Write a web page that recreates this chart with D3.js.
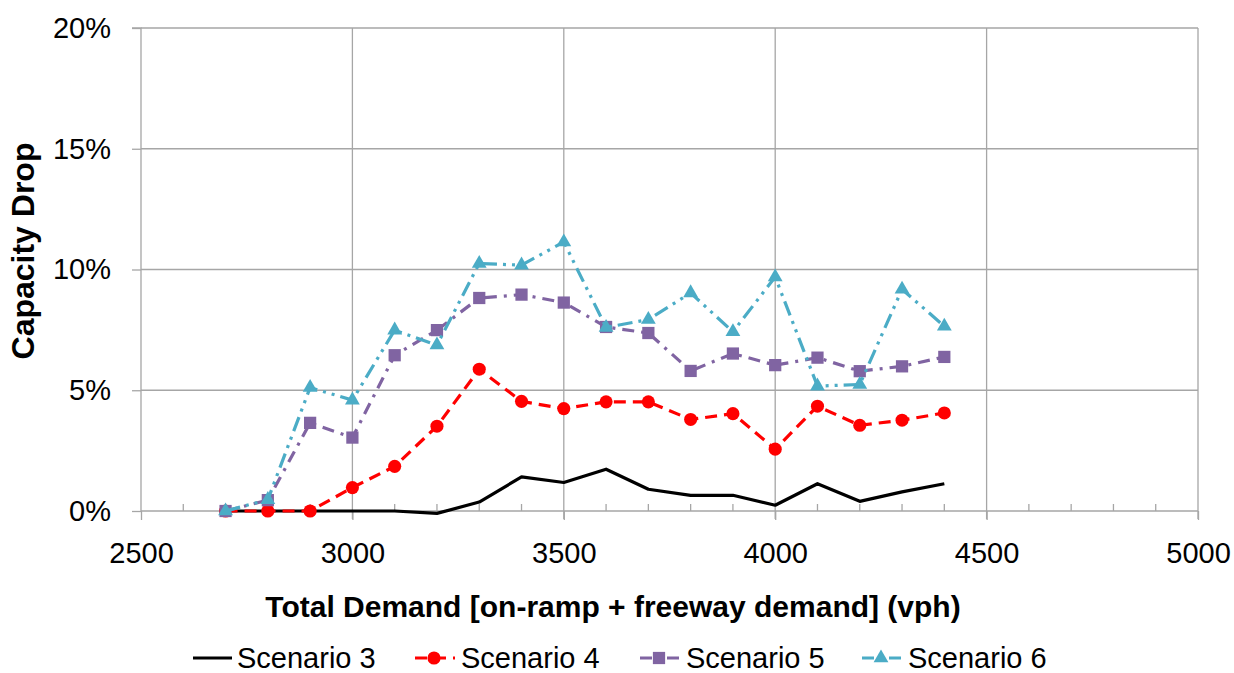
<!DOCTYPE html>
<html>
<head>
<meta charset="utf-8">
<script src="https://cdn.jsdelivr.net/npm/d3@7"></script>
<style>
  body { margin: 0; background: #fff; }
  svg { display: block; font-family: "Liberation Sans", Arial, sans-serif; }
</style>
</head>
<body>
<svg width="1234" height="673"></svg>
<script>
// total demand (vph)
const demand = [2700, 2800, 2900, 3000, 3100, 3200, 3300, 3400, 3500, 3600, 3700, 3800, 3900, 4000, 4100, 4200, 4300, 4400]

// capacity drop (%)
const scenario3 = [0, 0, 0, 0, 0, -0.1, 0.37, 1.41, 1.18, 1.73, 0.9, 0.65, 0.65, 0.24, 1.13, 0.4, 0.79, 1.13]
const scenario4 = [0, 0, 0, 0.97, 1.85, 3.51, 5.87, 4.54, 4.24, 4.52, 4.52, 3.79, 4.03, 2.56, 4.34, 3.55, 3.76, 4.06]
const scenario5 = [0, 0.45, 3.65, 3.04, 6.45, 7.49, 8.82, 8.96, 8.63, 7.62, 7.37, 5.8, 6.52, 6.04, 6.35, 5.79, 5.99, 6.38]
const scenario6 = [0, 0.47, 5.11, 4.59, 7.49, 6.87, 10.25, 10.18, 11.14, 7.6, 7.93, 9.03, 7.42, 9.69, 5.17, 5.24, 9.18, 7.65]

const seriesNames = ['Scenario 3', 'Scenario 4', 'Scenario 5', 'Scenario 6']
const xTicks = [2500, 3000, 3500, 4000, 4500, 5000]
const xMinor = [2600, 2700, 2800, 2900, 3100, 3200, 3300, 3400, 3600, 3700, 3800, 3900, 4100, 4200, 4300, 4400, 4600, 4700, 4800, 4900]
const yTicks = [0, 5, 10, 15, 20]

const styles = [
	{ color: '#000000', dash: null, symbol: null },
	{ color: '#FF0000', dash: '12 7', symbol: d3.symbolCircle, size: 135 },
	{ color: '#8064A2', dash: '12 7 3 7', symbol: d3.symbolSquare, size: 150 },
	{ color: '#4BACC6', dash: '15 6 3 6 3 6', symbol: d3.symbolTriangle, size: 95 }
]

const svg = d3.select('svg')
const pLeft = 141, pRight = 1198, pTop = 28, pBottom = 511
const grid = '#A6A6A6'

const scX = d3.scaleLinear().domain([2500, 5000]).range([pLeft, pRight])
const scY = d3.scaleLinear().domain([0, 20]).range([pBottom, pTop])

// grid lines
svg.append('g')
	.selectAll('line')
	.data(yTicks.slice(1)).enter()
	.append('line')
	.attr('x1', pLeft).attr('x2', pRight)
	.attr('y1', d => scY(d)).attr('y2', d => scY(d))
	.attr('stroke', grid).attr('stroke-width', 1.3)

svg.append('g')
	.selectAll('line')
	.data(xTicks.slice(1)).enter()
	.append('line')
	.attr('y1', pTop).attr('y2', pBottom + 8)
	.attr('x1', d => scX(d)).attr('x2', d => scX(d))
	.attr('stroke', grid).attr('stroke-width', 1.3)

// y axis
let yAx = svg.append('g')
	.attr('transform', `translate(${pLeft},0)`)
	.call(d3.axisLeft(scY).tickValues(yTicks).tickSize(9).tickPadding(21).tickFormat(d => d + '%'))
yAx.selectAll('line, path').attr('stroke', grid).attr('stroke-width', 1.3)
yAx.select('path').attr('d', `M-9,${pTop}H0V${pBottom}`)
yAx.selectAll('text').attr('font-size', 29).attr('fill', '#000')
yAx.attr('font-family', null)

// x axis
let xAx = svg.append('g')
	.attr('transform', `translate(0,${pBottom})`)
	.call(d3.axisBottom(scX).tickValues(xTicks).tickSize(9).tickPadding(22).tickFormat(d3.format('d')))
xAx.selectAll('line, path').attr('stroke', grid).attr('stroke-width', 1.3)
xAx.select('path').attr('d', `M${pLeft},0H${pRight}`)
xAx.selectAll('text').attr('font-size', 29).attr('fill', '#000')
xAx.attr('font-family', null)

svg.append('g')
	.selectAll('line')
	.data(xMinor).enter()
	.append('line')
	.attr('x1', d => scX(d)).attr('x2', d => scX(d))
	.attr('y1', pBottom).attr('y2', pBottom - 7)
	.attr('stroke', grid).attr('stroke-width', 1.3)

// titles
svg.append('text')
	.attr('x', 613).attr('y', 617)
	.attr('text-anchor', 'middle')
	.attr('font-size', 30).attr('font-weight', 'bold')
	.text('Total Demand [on-ramp + freeway demand] (vph)')

svg.append('text')
	.attr('transform', 'translate(34,251) rotate(-90)')
	.attr('text-anchor', 'middle')
	.attr('font-size', 32).attr('font-weight', 'bold')
	.text('Capacity Drop')

// series
const series = [scenario3, scenario4, scenario5, scenario6]
const line = d3.line().x((d, i) => scX(demand[i])).y(d => scY(d))

series.forEach((vals, k) => {
	let st = styles[k]
	let g = svg.append('g')
	g.append('path')
		.attr('d', line(vals))
		.attr('fill', 'none')
		.attr('stroke', st.color)
		.attr('stroke-width', 3.2)
		.attr('stroke-linejoin', 'round')
		.attr('stroke-dasharray', st.dash)
	if (st.symbol) {
		g.selectAll('path.m')
			.data(vals).enter()
			.append('path')
			.attr('class', 'm')
			.attr('d', d3.symbol(st.symbol, st.size))
			.attr('transform', (d, i) => `translate(${scX(demand[i])},${scY(d)})`)
			.attr('fill', st.color)
	}
})

// legend
const legendX = [193, 415, 640, 862]
const legendY = 658
let lg = svg.append('g')
	.selectAll('g')
	.data(seriesNames).enter()
	.append('g')
	.attr('transform', (d, i) => `translate(${legendX[i]},${legendY})`)

lg.append('line')
	.attr('x1', 0).attr('x2', (d, i) => i == 0 ? 39 : 40)
	.attr('y1', 0).attr('y2', 0)
	.attr('stroke', (d, i) => styles[i].color)
	.attr('stroke-width', 3.2)
	.attr('stroke-dasharray', (d, i) => i == 0 ? null : (i == 1 ? '12 7' : '12 6 3 6'))

lg.each(function(d, i) {
	if (!styles[i].symbol) return
	d3.select(this).append('path')
		.attr('d', d3.symbol(styles[i].symbol, styles[i].size)())
		.attr('transform', 'translate(19,0)')
		.attr('fill', styles[i].color)
})

lg.append('text')
	.attr('x', (d, i) => i == 0 ? 44 : 46)
	.attr('y', 10)
	.attr('font-size', 29)
	.text(d => d)
</script>
</body>
</html>
